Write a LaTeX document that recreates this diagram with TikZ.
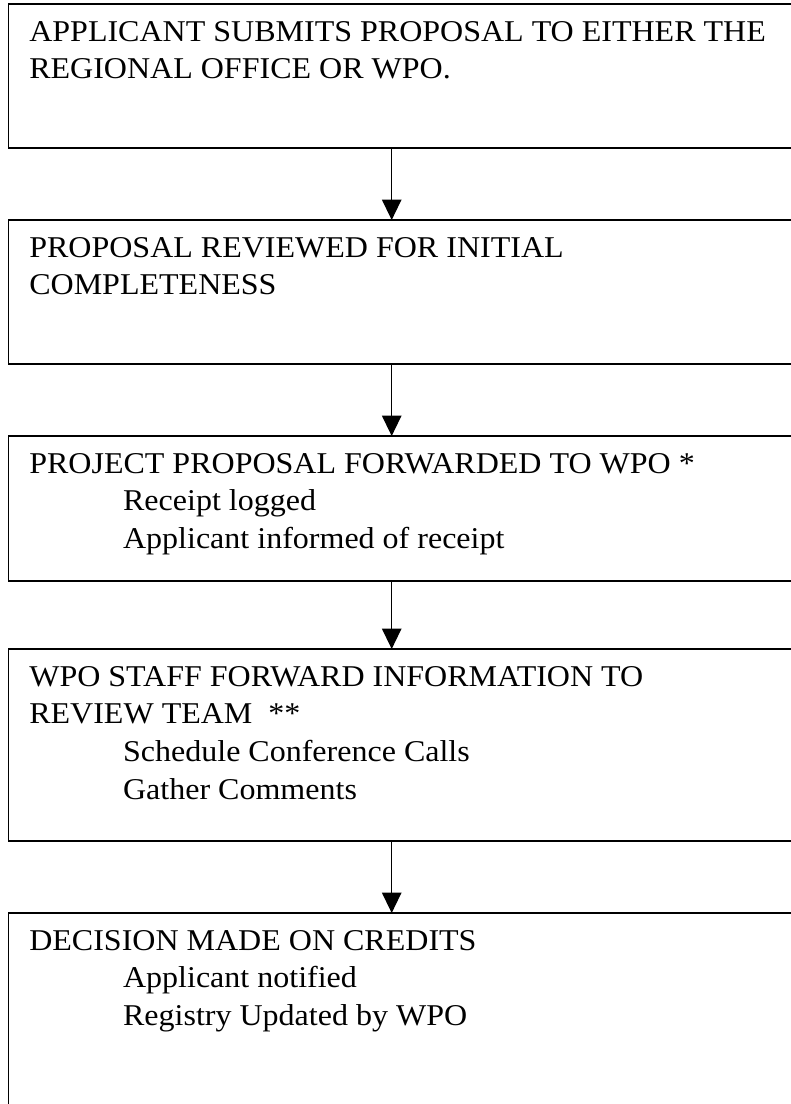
\documentclass[tikz,border=0pt]{standalone}
\usepackage{fontspec}
\setmainfont{Liberation Serif}
\usetikzlibrary{arrows.meta,calc}
\tikzset{
  stepbox/.style={draw=black, line width=1.4pt, rectangle, anchor=north west,
    minimum width=800pt, inner sep=0pt, outer sep=0pt},
  boxtext/.style={anchor=north west, inner sep=0pt, outer sep=0pt, align=left,
    xscale=1.06, transform shape,
    font=\fontsize{30.2pt}{37.8pt}\selectfont},
  flow/.style={draw=black, line width=1.4pt, -{Triangle[width=19.5pt,length=20.5pt]}},
}
\newcommand{\topstrut}{\rule{0pt}{26pt}}
\newcommand{\ind}{\hspace*{88.5pt}}
\begin{document}
\begin{tikzpicture}[x=1pt,y=1pt]
\useasboundingbox (0,0) rectangle (791,-1104);
\coordinate (ax) at (391.7,0);
\node[stepbox, minimum height=144pt] (b1) at (8.3,-4) {};
\node[stepbox, minimum height=144pt] (b2) at (8.3,-220) {};
\node[stepbox, minimum height=145pt] (b3) at (8.3,-436) {};
\node[stepbox, minimum height=192pt] (b4) at (8.3,-649) {};
\node[stepbox, minimum height=260pt] (b5) at (8.3,-913) {};
\node[boxtext] (t1) at ($(b1.north west)+(21,-11)$) {\topstrut APPLICANT SUBMITS PROPOSAL TO EITHER THE\\REGIONAL OFFICE OR WPO.};
\node[boxtext] (t2) at ($(b2.north west)+(21,-11)$) {\topstrut PROPOSAL REVIEWED FOR INITIAL\\COMPLETENESS};
\node[boxtext] (t3) at ($(b3.north west)+(21,-11)$) {\topstrut PROJECT PROPOSAL FORWARDED TO WPO *\\\ind Receipt logged\\\ind Applicant informed of receipt};
\node[boxtext] (t4) at ($(b4.north west)+(21,-11)$) {\topstrut WPO STAFF FORWARD INFORMATION TO\\REVIEW TEAM\ \ **\\\ind Schedule Conference Calls\\\ind Gather Comments};
\node[boxtext] (t5) at ($(b5.north west)+(21,-11)$) {\topstrut DECISION MADE ON CREDITS\\\ind Applicant notified\\\ind Registry Updated by WPO};
\draw[flow] (b1.south -| ax) -- (b2.north -| ax);
\draw[flow] (b2.south -| ax) -- (b3.north -| ax);
\draw[flow] (b3.south -| ax) -- (b4.north -| ax);
\draw[flow] (b4.south -| ax) -- (b5.north -| ax);
\end{tikzpicture}
\end{document}
